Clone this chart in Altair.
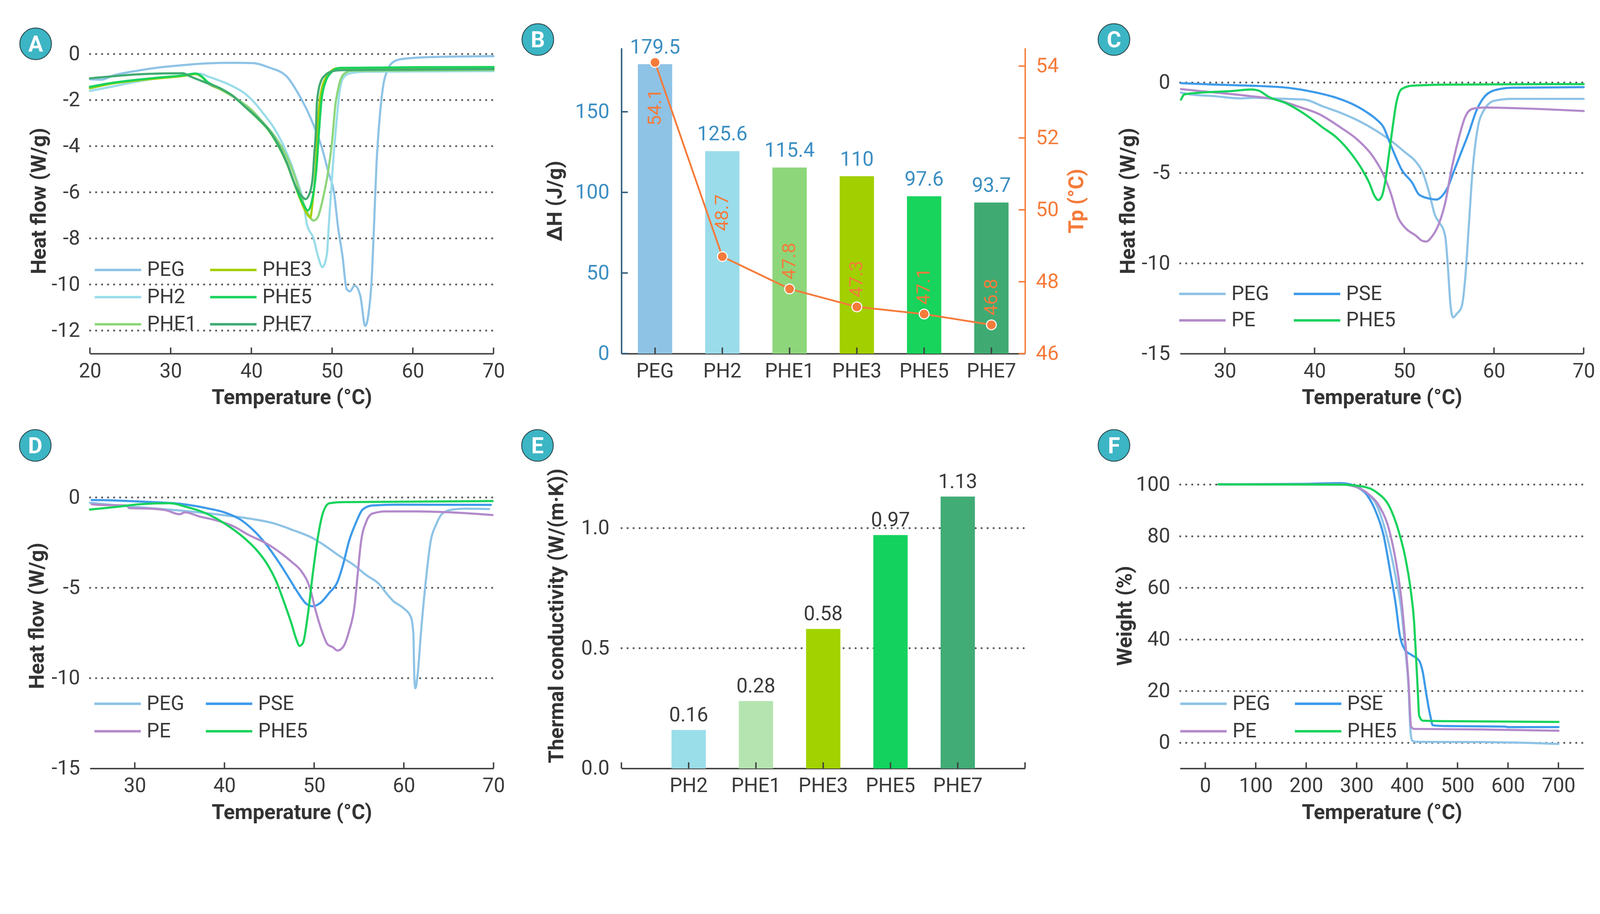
import altair as alt
import pandas as pd

# ---------------- data ----------------
# Panel A : DSC curves (T in °C, H in W/g)
A_PEG_T = [20.0, 21.4, 22.9, 25.9, 28.8, 31.8, 34.7, 37.7, 40.2, 42.1, 44.4, 45.8, 47.3, 48.8, 49.5, 50.3, 50.7, 51.3, 51.8, 52.2, 52.8, 53.5, 54.1, 54.5, 54.9, 55.2, 55.5, 55.9, 56.3, 56.9, 57.4, 58.4, 62.1, 70.0]
A_PEG_H = [-1.10, -1.12, -0.94, -0.73, -0.58, -0.48, -0.41, -0.39, -0.40, -0.58, -0.99, -1.72, -2.75, -4.15, -5.08, -6.17, -7.41, -8.8, -10.2, -10.3, -10.05, -10.5, -11.8, -11.3, -9.8, -7.4, -4.8, -2.75, -1.46, -0.68, -0.40, -0.24, -0.14, -0.10]
A_PH2_T = [20.0, 22.9, 25.9, 28.8, 31.8, 33.6, 34.7, 37.7, 39.2, 40.7, 41.4, 42.9, 44.4, 45.5, 46.4, 46.9, 47.7, 48.3, 48.8, 49.35, 49.6, 50.1, 50.6, 50.9, 51.3, 52.05, 54.0, 62.1, 70.0]
A_PH2_H = [-1.61, -1.41, -1.20, -1.04, -0.94, -0.86, -0.99, -1.41, -1.72, -2.24, -2.55, -3.27, -4.31, -5.34, -6.38, -7.41, -8.0, -8.83, -9.25, -8.71, -7.41, -4.82, -2.75, -1.72, -1.10, -0.86, -0.78, -0.76, -0.75]
A_PHE1_T = [20.0, 22.9, 25.9, 28.8, 31.8, 33.1, 33.9, 34.5, 36.2, 37.7, 39.2, 39.9, 41.4, 42.9, 44.4, 45.5, 46.5, 47.2, 47.7, 48.2, 48.8, 49.4, 50.0, 50.4, 50.9, 51.5, 52.5, 60.0, 70.0]
A_PHE1_H = [-1.50, -1.28, -1.15, -1.05, -0.95, -0.88, -1.02, -1.25, -1.55, -1.85, -2.20, -2.39, -2.96, -3.58, -4.46, -5.44, -6.53, -7.05, -7.23, -7.10, -6.38, -5.34, -3.79, -2.24, -1.30, -0.86, -0.73, -0.72, -0.70]
A_PHE3_T = [20.0, 22.9, 25.9, 28.8, 31.8, 33.1, 33.9, 34.5, 36.2, 37.7, 39.2, 40.7, 42.1, 42.9, 44.4, 45.5, 46.4, 46.9, 47.3, 47.6, 48.0, 48.2, 48.6, 49.4, 50.6, 60.0, 70.0]
A_PHE3_H = [-1.48, -1.28, -1.15, -1.05, -0.94, -0.87, -1.00, -1.22, -1.52, -1.83, -2.29, -2.78, -3.30, -3.72, -4.76, -5.80, -6.60, -6.95, -7.10, -6.38, -4.82, -3.27, -1.72, -0.94, -0.63, -0.60, -0.60]
A_PHE5_T = [20.0, 22.9, 25.9, 28.8, 31.8, 33.1, 33.9, 34.5, 36.2, 37.7, 39.2, 40.7, 42.1, 42.9, 44.4, 45.5, 46.4, 47.0, 47.5, 48.1, 48.4, 48.7, 49.2, 49.8, 50.9, 60.0, 70.0]
A_PHE5_H = [-1.43, -1.25, -1.12, -1.02, -0.92, -0.85, -0.99, -1.20, -1.50, -1.82, -2.29, -2.77, -3.29, -3.71, -4.74, -5.78, -6.50, -6.79, -6.38, -4.82, -3.27, -1.98, -1.20, -0.84, -0.61, -0.58, -0.57]
A_PHE7_T = [20.0, 22.9, 25.9, 28.8, 31.5, 32.5, 34.0, 36.2, 37.7, 39.2, 40.7, 42.1, 42.9, 44.4, 45.5, 46.2, 46.7, 47.3, 47.6, 47.8, 48.0, 48.1, 48.3, 48.6, 49.1, 50.0, 51.0, 60.0, 70.0]
A_PHE7_H = [-1.06, -0.97, -0.89, -0.85, -0.84, -0.99, -1.20, -1.51, -1.82, -2.29, -2.75, -3.27, -3.68, -4.72, -5.75, -6.15, -6.30, -5.96, -5.34, -4.31, -3.27, -2.24, -1.61, -1.20, -0.94, -0.76, -0.71, -0.68, -0.66]

# Panel B : latent heat and peak temperature
B_NAMES = ["PEG", "PH2", "PHE1", "PHE3", "PHE5", "PHE7"]
B_DH = [179.5, 125.6, 115.4, 110, 97.6, 93.7]
B_TP = [54.1, 48.7, 47.8, 47.3, 47.1, 46.8]

# Panel C : DSC curves
C_PEG_T = [25.1, 26.1, 28.9, 31.7, 33.3, 34.9, 36.9, 38.9, 40.9, 42.9, 44.9, 46.9, 48.5, 50.1, 51.3, 52.05, 52.8, 53.4, 54.0, 54.4, 54.6, 54.85, 55.15, 55.45, 55.85, 56.4, 56.8, 57.2, 57.6, 58.2, 58.8, 60.0, 62.0, 70.0]
C_PEG_H = [-0.56, -0.66, -0.76, -0.88, -0.85, -0.88, -0.91, -0.95, -1.32, -1.68, -2.12, -2.68, -3.22, -3.87, -4.39, -4.97, -6.14, -7.31, -7.82, -8.19, -8.63, -10.1, -12.3, -13.0, -12.8, -12.4, -10.8, -7.9, -4.97, -2.49, -1.61, -1.02, -0.91, -0.91]
C_PSE_T = [25.1, 28.9, 32.9, 36.9, 39.7, 42.1, 44.1, 45.7, 46.9, 47.7, 48.3, 48.9, 49.7, 50.9, 51.65, 52.85, 53.6, 54.2, 54.8, 55.6, 56.4, 57.2, 58.0, 58.8, 60.0, 62.0, 70.0]
C_PSE_H = [-0.04, -0.12, -0.18, -0.29, -0.51, -0.80, -1.17, -1.61, -2.05, -2.49, -3.22, -3.95, -4.82, -5.56, -6.21, -6.43, -6.48, -6.29, -5.85, -4.82, -3.80, -2.78, -1.61, -0.88, -0.44, -0.29, -0.26]
C_PE_T = [25.1, 28.9, 32.9, 35.7, 38.1, 40.5, 42.9, 44.9, 46.5, 47.7, 48.5, 49.3, 50.1, 51.3, 52.05, 52.45, 53.05, 53.8, 54.6, 55.2, 56.0, 56.8, 57.6, 58.8, 62.8, 70.0]
C_PE_H = [-0.37, -0.56, -0.76, -0.95, -1.32, -1.75, -2.49, -3.22, -4.09, -5.12, -6.14, -7.46, -8.04, -8.48, -8.77, -8.80, -8.55, -7.89, -6.58, -4.97, -3.22, -1.90, -1.46, -1.39, -1.43, -1.58]
C_PHE5_T = [25.1, 25.5, 26.9, 30.9, 32.9, 33.7, 34.9, 36.9, 38.9, 40.9, 42.5, 44.1, 45.3, 46.1, 46.7, 47.1, 47.5, 47.9, 48.3, 48.7, 49.1, 49.7, 50.9, 54.8, 70.0]
C_PHE5_H = [-0.95, -0.66, -0.58, -0.47, -0.39, -0.44, -0.80, -1.17, -1.75, -2.49, -3.07, -3.95, -4.82, -5.56, -6.29, -6.51, -6.29, -5.41, -3.95, -2.49, -1.17, -0.37, -0.18, -0.12, -0.09]

# Panel D : DSC curves
D_PEG_T = [25.0, 28.0, 31.7, 35.4, 39.1, 42.8, 45.4, 47.6, 49.85, 51.3, 52.8, 54.3, 55.8, 57.3, 58.0, 58.8, 59.9, 60.8, 61.06, 61.17, 61.28, 61.54, 61.9, 62.47, 63.0, 63.6, 64.3, 65.4, 66.9, 69.5]
D_PEG_H = [-0.30, -0.45, -0.60, -0.75, -0.94, -1.18, -1.43, -1.81, -2.26, -2.71, -3.24, -3.70, -4.30, -4.83, -5.28, -5.73, -6.11, -6.64, -7.54, -9.95, -10.56, -9.80, -7.54, -4.52, -2.41, -1.51, -0.90, -0.68, -0.63, -0.65]
D_PSE_T = [25.2, 28.0, 32.0, 35.4, 38.0, 40.2, 41.7, 43.2, 44.7, 46.1, 47.25, 48.2, 49.1, 49.85, 50.6, 51.7, 52.6, 53.2, 53.9, 54.7, 55.4, 56.5, 59.5, 69.7]
D_PSE_H = [-0.15, -0.18, -0.27, -0.38, -0.60, -0.87, -1.21, -1.81, -2.64, -3.62, -4.52, -5.28, -5.88, -6.03, -5.88, -5.28, -4.68, -3.77, -2.41, -1.36, -0.68, -0.45, -0.41, -0.42]
D_PE_T = [25.2, 26.1, 29.1, 29.4, 31.7, 33.5, 35.0, 35.6, 37.2, 39.1, 40.9, 42.8, 44.7, 46.5, 47.6, 48.55, 49.5, 50.2, 50.96, 51.5, 52.1, 52.6, 53.2, 53.9, 54.5, 54.86, 55.2, 55.8, 56.5, 58.0, 61.35, 65.1, 69.9]
D_PE_H = [-0.38, -0.42, -0.45, -0.60, -0.63, -0.72, -0.94, -0.83, -1.06, -1.28, -1.58, -2.11, -2.56, -3.17, -3.62, -4.07, -4.98, -6.33, -7.54, -8.14, -8.30, -8.48, -8.30, -7.39, -6.03, -4.22, -2.56, -1.36, -0.90, -0.78, -0.78, -0.83, -0.98]
D_PHE5_T = [25.0, 28.0, 30.6, 33.9, 35.75, 38.0, 40.2, 42.06, 43.5, 44.66, 45.8, 46.7, 47.44, 48.0, 48.37, 48.74, 49.3, 49.85, 50.4, 50.96, 51.7, 53.2, 69.9]
D_PHE5_H = [-0.68, -0.53, -0.38, -0.33, -0.53, -0.90, -1.51, -2.19, -2.87, -3.62, -4.68, -5.88, -6.94, -7.84, -8.22, -8.07, -6.49, -4.22, -2.26, -0.90, -0.33, -0.27, -0.21]

# Panel E : thermal conductivity
E_NAMES = ["PH2", "PHE1", "PHE3", "PHE5", "PHE7"]
E_K = [0.16, 0.28, 0.58, 0.97, 1.13]

# Panel F : TGA curves (T in °C, weight %)
F_PEG_T = [26, 268, 296, 318, 339, 353, 367, 378, 389, 396, 403, 406.5, 410, 417, 552, 623, 700]
F_PEG_W = [100, 100, 99.2, 96.5, 92.2, 84.8, 74.2, 63.5, 50.8, 37.0, 21.0, 5.1, 0.85, 0.3, 0.2, 0.0, -0.5]
F_PE_T = [26, 268, 296, 325, 346, 364, 378, 389, 396, 403, 408, 413.6, 552, 700]
F_PE_W = [100, 100, 99.2, 96.0, 91.2, 82.7, 69.9, 55.0, 40.2, 23.2, 6.2, 5.3, 5.1, 4.6]
F_PSE_T = [26, 197, 268, 296, 318, 339, 353, 367, 378, 385, 396, 410, 424, 431, 438, 446, 451, 481, 595, 599, 700]
F_PSE_W = [100, 100.2, 100.5, 99.5, 96.5, 89.0, 80.6, 65.7, 52.9, 42.3, 35.9, 33.8, 31.7, 27.4, 18.9, 10.4, 6.7, 6.4, 6.2, 6.0, 6.0]
F_PHE5_T = [26, 268, 311, 339, 367, 382, 396, 407, 414, 417.6, 421, 424, 431, 481, 700]
F_PHE5_W = [100, 99.9, 99.2, 97.0, 90.6, 82.7, 72.1, 59.3, 46.5, 33.8, 21.0, 10.4, 8.5, 8.3, 8.0]

# ---------------- styling ----------------
W, H = 1130, 855
WB = 1206
CF = "Roboto"
BF = "Roboto"
TXT = "#3a3a3a"
AX = "#404040"
GRID = "#5a5a5a"
BLUE = "#3b8ec2"
ORANGE = "#f57b3b"

COL = {"PEG": "#8ec3e6", "PH2": "#9adcea", "PHE1": "#8dd67a", "PHE3": "#a2cf00",
       "PHE5": "#18d35c", "PHE7": "#3fab72", "PSE": "#3e9bea", "PE": "#b38acb"}
E_COLORS = ["#9adeea", "#b5e4b1", "#a2d200", "#13d35e", "#41ac76"]
MINUS = "replace(datum.label, '\u2212', '-')"


def xaxis(values, title="Temperature (°C)"):
    return alt.Axis(values=values, title=title, grid=False, ticks=False, domain=True,
                    domainColor=AX, domainWidth=4, labelFont=CF, labelFontSize=56,
                    labelColor=TXT, labelPadding=22, labelFlush=False, labelOverlap=False,
                    labelExpr=MINUS, titleFont=BF, titleFontSize=58, titleFontWeight="bold",
                    titleColor="#333333", titlePadding=18)


def yaxis(values, title, hide=None, pad=6, fmt=None, lpad=28):
    kw = dict(values=values, title=title, grid=True, gridDash=[0.1, 16.7], gridCap="round",
              gridWidth=5.5, gridColor=GRID, domain=False, ticks=False, labelFont=CF,
              labelFontSize=57, labelColor=TXT, labelPadding=lpad, labelOverlap=False,
              titleFont=BF, titleFontSize=58, titleFontWeight="bold", titleColor="#333333",
              titlePadding=pad)
    if hide is not None:
        kw["gridOpacity"] = {"condition": {"test": f"datum.value === {hide}", "value": 0}, "value": 1}
    if fmt:
        kw["format"] = fmt
    else:
        kw["labelExpr"] = MINUS
    return alt.Axis(**kw)


def badge(letter, cx, cy):
    d = alt.Data(values=[{"lab": letter}])
    c = alt.Chart(d).mark_point(shape="circle", filled=True, size=7850, fill="#3cb5c4",
                                stroke="#2c4a4e", strokeWidth=2.5, opacity=1).encode(
        x=alt.value(cx), y=alt.value(cy))
    t = alt.Chart(d).mark_text(font=BF, fontSize=62, fontWeight="bold", color="white",
                               baseline="middle", align="center", dy=3).encode(
        x=alt.value(cx), y=alt.value(cy), text="lab:N")
    return [c, t]


def series_df(pairs, ycol):
    rows = []
    for name, ts, vs in pairs:
        for t, v in zip(ts, vs):
            rows.append({"T": t, ycol: v, "s": name})
    return pd.DataFrame(rows)


def line_panel(pairs, ycol, xdom, ydom, xvals, xticks, yvals, ytitle, legend_order,
               letter, bpos, lx, ly, rowpad, colpad, hide=None, ypad=6, thick=None):
    df = series_df(pairs, ycol)
    x = alt.X("T:Q", scale=alt.Scale(domain=xdom, nice=False, zero=False), axis=xaxis(xvals))
    y = alt.Y(f"{ycol}:Q", scale=alt.Scale(domain=ydom, nice=False, zero=False),
              axis=yaxis(yvals, ytitle, hide=hide, pad=ypad))
    legend = alt.Legend(title=None, orient="none", legendX=lx, legendY=ly, columns=2,
                        symbolType="M-5,0L5,0", symbolSize=676, symbolStrokeWidth=7,
                        symbolOffset=37.5, labelOffset=53.5, labelFont=CF, labelFontSize=56,
                        labelColor=TXT, rowPadding=rowpad, columnPadding=colpad, padding=0)
    color = alt.Color("s:N", scale=alt.Scale(domain=legend_order,
                                             range=[COL[n] for n in legend_order]),
                      legend=legend)
    enc = dict(x=x, y=y, color=color)
    if thick:
        enc["strokeWidth"] = alt.condition(alt.datum.s == thick, alt.value(8.5), alt.value(6))
    lines = alt.Chart(df).mark_line(interpolate="monotone", strokeWidth=6, strokeCap="round",
                                    strokeJoin="round").encode(**enc)
    ticks = alt.Chart(pd.DataFrame({"T": xticks})).mark_rule(color=AX, strokeWidth=4).encode(
        x=x, y=alt.value(H), y2=alt.value(H - 17))
    return alt.layer(lines, ticks, *badge(letter, *bpos)).properties(width=W, height=H)


# ---------------- panel A ----------------
A = line_panel(
    [("PEG", A_PEG_T, A_PEG_H), ("PH2", A_PH2_T, A_PH2_H), ("PHE1", A_PHE1_T, A_PHE1_H),
     ("PHE3", A_PHE3_T, A_PHE3_H), ("PHE5", A_PHE5_T, A_PHE5_H), ("PHE7", A_PHE7_T, A_PHE7_H)],
    "H", [20, 70], [-13, 0.25], [20, 30, 40, 50, 60, 70], [20, 30, 40, 50, 60, 70],
    [0, -2, -4, -6, -8, -10, -12], "Heat flow (W/g)",
    ["PEG", "PH2", "PHE1", "PHE3", "PHE5", "PHE7"], "A", (-152, -12), 13, 593, 20, 23,
    ypad=5, thick="PHE7")

# ---------------- panel B ----------------
dfB = pd.DataFrame({"name": B_NAMES, "dH": B_DH, "Tp": B_TP})
xB = alt.X("name:N", sort=B_NAMES,
           scale=alt.Scale(range=[0, W], paddingInner=0.49, paddingOuter=0.245),
           axis=alt.Axis(title=None, labelAngle=0, ticks=False, grid=False, domainColor=AX,
                         domainWidth=4, labelFont=CF, labelFontSize=56, labelColor=TXT,
                         labelPadding=22))
yL = alt.Y("dH:Q", scale=alt.Scale(domain=[0, 189.5], nice=False),
           axis=alt.Axis(orient="left", values=[0, 50, 100, 150], title="ΔH (J/g)", grid=False,
                         ticks=False, domainColor="#2e5a78", domainWidth=4, labelColor=BLUE,
                         labelFont=CF, labelFontSize=57, labelPadding=34, titleFont=BF,
                         titleFontSize=58, titleFontWeight="bold", titleColor="#333333",
                         titlePadding=25))
yR = alt.Y("Tp:Q", scale=alt.Scale(domain=[46, 54.5], nice=False, zero=False),
           axis=alt.Axis(orient="right", offset=-(WB - W), values=[46, 48, 50, 52, 54],
                         title="Tp (°C)", titleAngle=270, titleBaseline="top", grid=False,
                         ticks=False, domainColor=ORANGE, domainWidth=4, labelColor=ORANGE,
                         labelFont=CF, labelFontSize=57, labelPadding=30, titleFont=BF,
                         titleFontSize=58, titleFontWeight="bold", titleColor=ORANGE,
                         titlePadding=22))
bars = alt.Chart(dfB).mark_bar().encode(
    x=xB, y=yL, color=alt.Color("name:N", scale=alt.Scale(domain=B_NAMES,
                                                          range=[COL[n] for n in B_NAMES]),
                                legend=None))
barlab = alt.Chart(dfB).mark_text(dy=-30, baseline="alphabetic", font=CF, fontSize=56,
                                  color=BLUE).encode(x=xB, y=yL, text="dH:Q")
tickL = alt.Chart(pd.DataFrame({"dH": [0, 50, 100, 150]})).mark_rule(
    color="#2e5a78", strokeWidth=4).encode(y=yL, x=alt.value(0), x2=alt.value(18))
xtB = alt.Chart(pd.DataFrame({"name": B_NAMES})).mark_rule(color=AX, strokeWidth=4).encode(
    x=xB, y=alt.value(H), y2=alt.value(H - 17))
left = alt.layer(bars, barlab, tickL, xtB)

tpline = alt.Chart(dfB).mark_line(color=ORANGE, strokeWidth=5).encode(x=xB, y=yR)
tppts = alt.Chart(dfB).mark_point(shape="circle", filled=True, fill=ORANGE, stroke="white",
                                  strokeWidth=3, size=750, opacity=1).encode(x=xB, y=yR)


def tplab(cond, align, dx):
    return alt.Chart(dfB).transform_filter(cond).mark_text(
        angle=270, align=align, baseline="middle", dx=dx, font=CF, fontSize=53,
        color=ORANGE).encode(x=xB, y=yR, text="Tp:Q")


lab1 = tplab(alt.datum.name == "PEG", "right", -74)
lab2 = tplab(alt.datum.name == "PH2", "left", 71)
lab3 = tplab((alt.datum.name != "PEG") & (alt.datum.name != "PH2"), "left", 26)
tickR = alt.Chart(pd.DataFrame({"Tp": [46, 48, 50, 52, 54]})).mark_rule(
    color=ORANGE, strokeWidth=4).encode(y=yR, x=alt.value(W - 18), x2=alt.value(W))
right = alt.layer(tpline, tppts, lab1, lab2, lab3, tickR)
B = alt.layer(left, right, *badge("B", -234, -24)).resolve_scale(y="independent").properties(
    width=WB, height=H)

# ---------------- panel C ----------------
C = line_panel(
    [("PEG", C_PEG_T, C_PEG_H), ("PSE", C_PSE_T, C_PSE_H), ("PE", C_PE_T, C_PE_H),
     ("PHE5", C_PHE5_T, C_PHE5_H)],
    "H", [25, 70], [-15, 1.9], [30, 40, 50, 60, 70], [30, 40, 50, 60, 70],
    [0, -5, -10, -15], "Heat flow (W/g)", ["PEG", "PE", "PSE", "PHE5"], "C", (-185, -24),
    -3, 660, 18, 54, hide=-15, ypad=7)

# ---------------- panel D ----------------
D = line_panel(
    [("PEG", D_PEG_T, D_PEG_H), ("PSE", D_PSE_T, D_PSE_H), ("PE", D_PE_T, D_PE_H),
     ("PHE5", D_PHE5_T, D_PHE5_H)],
    "H", [25, 70], [-15, 1.9], [30, 40, 50, 60, 70], [30, 40, 50, 60, 70],
    [0, -5, -10, -15], "Heat flow (W/g)", ["PEG", "PE", "PSE", "PHE5"], "D", (-153, -49),
    12, 646, 21, 45, hide=-15, ypad=10)

# ---------------- panel E ----------------
dfE = pd.DataFrame({"name": E_NAMES, "k": E_K})
xE = alt.X("name:N", sort=E_NAMES,
           scale=alt.Scale(range=[0, W], paddingInner=0.49, paddingOuter=0.745),
           axis=alt.Axis(title=None, labelAngle=0, ticks=False, grid=False, domainColor=AX,
                         domainWidth=4, labelFont=CF, labelFontSize=56, labelColor=TXT,
                         labelPadding=22))
yE = alt.Y("k:Q", scale=alt.Scale(domain=[0, 1.27], nice=False),
           axis=yaxis([0, 0.5, 1.0], "Thermal conductivity (W/(m·K))", hide=0, pad=38,
                      fmt=".1f", lpad=34))
barsE = alt.Chart(dfE).mark_bar().encode(
    x=xE, y=yE, color=alt.Color("name:N", scale=alt.Scale(domain=E_NAMES, range=E_COLORS),
                                legend=None))
labE = alt.Chart(dfE).mark_text(dy=-24, baseline="alphabetic", font=CF, fontSize=56,
                                color=TXT).encode(x=xE, y=yE,
                                                  text=alt.Text("k:Q", format=".2f"))
xtE = alt.Chart(pd.DataFrame({"name": E_NAMES})).mark_rule(color=AX, strokeWidth=4).encode(
    x=xE, y=alt.value(H), y2=alt.value(H - 17))
one = pd.DataFrame({"e": [0]})
endL = alt.Chart(one).mark_rule(color=AX, strokeWidth=4).encode(
    x=alt.value(0), y=alt.value(H), y2=alt.value(H - 17))
endR = alt.Chart(one).mark_rule(color=AX, strokeWidth=4).encode(
    x=alt.value(W), y=alt.value(H), y2=alt.value(H - 17))
E = alt.layer(barsE, labE, xtE, endL, endR, *badge("E", -235, -49)).properties(width=WB, height=H)

# ---------------- panel F ----------------
F = line_panel(
    [("PEG", F_PEG_T, F_PEG_W), ("PSE", F_PSE_T, F_PSE_W), ("PE", F_PE_T, F_PE_W),
     ("PHE5", F_PHE5_T, F_PHE5_W)],
    "Wt", [-50, 750], [-10, 108.3], [0, 100, 200, 300, 400, 500, 600, 700],
    [0, 100, 200, 300, 400, 500, 600, 700], [0, 20, 40, 60, 80, 100], "Weight (%)",
    ["PEG", "PE", "PSE", "PHE5"], "F", (-185, -49), 0, 646, 21, 54, ypad=0)

chart = alt.concat(A, B, C, D, E, F, columns=3, spacing={"row": 306, "column": 358},
                   bounds="flush").resolve_scale(color="independent").resolve_legend(
    color="independent").properties(
    padding={"left": 40, "top": -51, "right": 5, "bottom": 5}, background="white"
).configure_view(stroke=None)

chart.save("out.html", embed_options={"renderer": "svg", "actions": False})
